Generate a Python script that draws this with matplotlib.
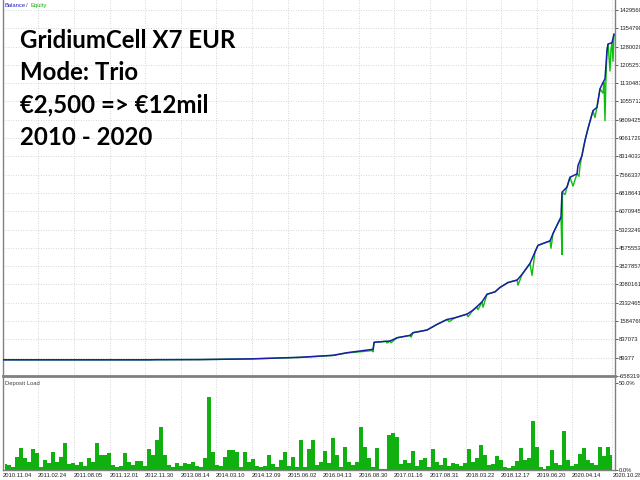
import numpy as np
import matplotlib
matplotlib.use("Agg")
import matplotlib.pyplot as plt

# balance curve: deal number -> balance
bal_deal = [1, 295, 305, 395, 495, 595, 661, 689, 741, 743, 775, 789, 815, 821, 849,
            869, 889, 905, 929, 941, 959, 969, 985, 995, 1011, 1029, 1039, 1055, 1065,
            1071, 1095, 1101, 1109, 1117, 1119, 1129, 1135, 1149, 1151, 1159, 1165, 1171,
            1181, 1189, 1195, 1201, 1205, 1209, 1211, 1219, 1223]
bal_value = [2500, 2500, 8000, 12000, 40000, 105000, 187000, 293000, 432000, 717000,
             770000, 904000, 1000000, 1110000, 1220000, 1450000, 1650000, 1720000,
             1870000, 2030000, 2370000, 2680000, 2780000, 2960000, 3160000, 3260000,
             3490000, 3940000, 4410000, 4680000, 4860000, 5160000, 5500000, 5830000,
             6850000, 7060000, 7460000, 7600000, 7940000, 8350000, 8960000, 9450000,
             10180000, 10320000, 11070000, 11330000, 11480000, 12630000, 12900000,
             12960000, 13300000]

# equity curve with floating drawdowns
eq_deal = [1, 295, 305, 395, 495, 595, 661, 689, 715, 739, 741, 743, 767, 769, 775,
           777, 789, 815, 817, 821, 849, 869, 889, 893, 905, 929, 931, 941, 949, 951,
           959, 961, 969, 985, 995, 1011, 1029, 1031, 1039, 1055, 1059, 1065, 1071,
           1095, 1097, 1101, 1109, 1117, 1119, 1120, 1125, 1129, 1135, 1141, 1149,
           1153, 1155, 1159, 1161, 1165, 1171, 1181, 1185, 1189, 1195, 1201, 1203,
           1205, 1207, 1209, 1211, 1213, 1215, 1217, 1219, 1221, 1223]
eq_value = [2500, 2500, 6000, 12000, 38000, 100000, 180000, 285000, 330000, 380000,
            330000, 717000, 760000, 690000, 770000, 700000, 904000, 1000000, 930000,
            1110000, 1220000, 1450000, 1650000, 1560000, 1720000, 1870000, 1760000,
            2030000, 2150000, 2050000, 2370000, 2150000, 2680000, 2780000, 2960000,
            3160000, 3260000, 3050000, 3490000, 3940000, 3450000, 4410000, 4680000,
            4860000, 4560000, 5160000, 5500000, 5830000, 4300000, 6850000, 6750000,
            7060000, 7460000, 7100000, 7600000, 7500000, 7940000, 8350000, 8600000,
            8960000, 9450000, 10180000, 9900000, 10320000, 11070000, 10900000,
            11330000, 9770000, 11480000, 12630000, 12900000, 12400000, 11800000,
            12700000, 12960000, 12200000, 13300000]

# deposit load in percent
load = [3.4, 2.9, 1.9, 7.7, 12.5, 6.7, 4.8, 11.9, 9.6, 1.9, 5.7, 3.8, 10.5, 4.8, 7.7,
        15.7, 3.4, 3.8, 2.9, 4.8, 2.3, 7.1, 4.8, 15.3, 8.6, 8.6, 10.0, 2.9, 1.9, 2.3,
        10.0, 4.8, 2.9, 5.4, 5.4, 2.3, 11.9, 8.6, 17.2, 24.9,
        8.6, 2.9, 1.5, 4.2, 2.3, 3.8, 3.4, 4.8, 2.3, 1.5, 6.7, 42.0, 10.5, 2.9, 2.3,
        7.7, 11.5, 11.5, 10.5, 1.9, 10.5, 4.8, 6.1, 2.3, 1.5, 2.3, 8.6, 3.4, 1.9, 5.7,
        10.5, 2.3, 7.3, 1.5, 17.2, 1.9, 11.9, 17.2,
        2.9, 4.8, 11.1, 3.8, 18.2, 8.6, 1.9, 13.0, 4.8, 2.9, 4.8, 24.5, 13.4, 6.7, 1.9,
        12.5, 0.4, 0.4, 20.1, 21.5, 19.2, 3.4, 5.7, 3.8, 11.1, 2.3, 5.7, 6.7, 1.9, 11.9,
        4.8, 2.9, 6.7, 2.3, 3.8, 3.4, 2.3, 4.2, 11.9,
        4.8, 6.7, 14.4, 8.6, 2.9, 3.4, 8.0, 5.7, 1.5, 1.0, 2.3, 5.4, 12.5, 5.7, 6.7,
        28.4, 13.4, 1.5, 0.8, 2.5, 11.5, 4.0, 2.9, 22.6, 6.0, 2.3, 3.4, 9.2, 12.5, 5.7,
        4.0, 2.9, 13.4, 8.0, 13.4, 8.6]

tick_deal = [0, 71, 142, 214, 285, 356, 427, 498, 570, 641, 712, 783, 854, 926, 997,
             1068, 1139, 1220]
tick_label = ["2010.11.04", "2011.02.24", "2011.08.05", "2011.12.01", "2012.11.30",
              "2013.08.14", "2014.03.10", "2014.12.09", "2015.06.02", "2016.04.13",
              "2016.08.30", "2017.01.16", "2017.08.31", "2018.03.22", "2018.12.17",
              "2019.06.20", "2020.04.14", "2020.10.28"]

y_first = 89377
y_step = 747696
y_ticks = [y_first + y_step * k for k in range(-1, 20)]

title_lines = ["GridiumCell X7 EUR", "Mode: Trio", "\u20ac2,500 => \u20ac12mil", "2010 - 2020"]

small = dict(family="Liberation Sans", size=4.2)
grid_kw = dict(color="#c8c8c8", linestyle=(0, (1, 2)), linewidth=0.6)

fig = plt.figure(figsize=(6.4, 4.8), dpi=100)

# main balance / equity panel
ax = fig.add_axes([0.0042, 0.2167, 0.9567, 0.7833])
ax.plot(eq_deal, eq_value, color="#0cbf0c", linewidth=1.0, zorder=2)
ax.plot(bal_deal, bal_value, color="#1c1ca8", linewidth=1.1, zorder=3)
ax.set_xlim(0, 1225)
ax.set_ylim(y_first - y_step, y_first + y_step * 19 + 408000)
ax.set_xticks(tick_deal)
ax.set_xticklabels([])
ax.tick_params(axis="x", length=0)
ax.yaxis.tick_right()
ax.set_yticks(y_ticks)
ax.set_yticklabels([str(v) for v in y_ticks], **small)
ax.tick_params(axis="y", length=2, width=0.5, pad=1, colors="#202020")
ax.grid(True, **grid_kw)
ax.spines["top"].set_visible(False)
for side in ["left", "right", "bottom"]:
    ax.spines[side].set_color("#808080")
    ax.spines[side].set_linewidth(1.0)
ax.spines["bottom"].set_linewidth(2.0)

ax.text(0.003, 0.993, "Balance", color="#2020c0", transform=ax.transAxes,
        ha="left", va="top", **small)
ax.text(0.038, 0.993, "/", color="#404040", transform=ax.transAxes,
        ha="left", va="top", **small)
ax.text(0.046, 0.993, "Equity", color="#10b010", transform=ax.transAxes,
        ha="left", va="top", **small)

for i, line in enumerate(title_lines):
    ax.text(0.029, 0.873 - i * 0.0864, line, transform=ax.transAxes, ha="left",
            va="baseline", family="Lato", weight="bold", size=17.3, color="black")

# deposit load panel
ax2 = fig.add_axes([0.0042, 0.0208, 0.9567, 0.1917])
pos = np.arange(len(load)) * 8 + 4
ax2.fill_between(pos, load, step="mid", color="#10b010", linewidth=0)
ax2.set_xlim(0, 1225)
ax2.set_ylim(0, 52.9)
ax2.set_xticks(tick_deal)
ax2.set_xticklabels(tick_label, ha="left", **small)
ax2.tick_params(axis="x", length=0, pad=2, colors="#202020")
ax2.yaxis.tick_right()
ax2.set_yticks([0, 50])
ax2.set_yticklabels(["0.0%", "50.0%"], **small)
ax2.tick_params(axis="y", length=2, width=0.5, pad=1, colors="#202020")
ax2.grid(True, axis="x", **grid_kw)
ax2.set_axisbelow(True)
ax2.spines["top"].set_visible(False)
for side in ["left", "right", "bottom"]:
    ax2.spines[side].set_color("#808080")
    ax2.spines[side].set_linewidth(1.0)
ax2.text(0.003, 0.97, "Deposit Load", color="#404040", transform=ax2.transAxes,
         ha="left", va="top", **small)

fig.savefig("out.png", dpi=100)
